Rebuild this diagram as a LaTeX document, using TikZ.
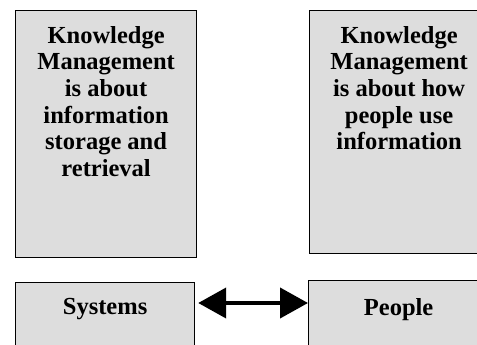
\documentclass[tikz,border=0pt]{standalone}
\usepackage{fontspec}
\setmainfont{Liberation Serif}
\usetikzlibrary{arrows.meta}
\definecolor{boxgray}{HTML}{DDDDDD}

\begin{document}
\begin{tikzpicture}[x=1pt,y=-1pt,
  box/.style={draw,line width=1.2pt,fill=boxgray,anchor=north west,inner sep=0pt},
  txt/.style={anchor=north,inner sep=0pt,align=center,font=\bfseries\fontsize{24.5}{26.7}\selectfont},
  both/.style={{Triangle[length=28pt,width=30pt]}-{Triangle[length=28pt,width=30pt]},line width=4pt}]
  \useasboundingbox (0,0) rectangle (477,345);
  \clip (0,0) rectangle (477,345);
  % top row
  \node [box,minimum width=181pt,minimum height=247pt] (storebox) at (15,10) {};
  \node [box,minimum width=179pt,minimum height=243pt] (usebox) at (309,10) {};
  \node [txt] (storetxt) at ([yshift=-16pt]storebox.north)
    {Knowledge\\Management\\is about\\information\\storage and\\retrieval};
  \node [txt] (usetxt) at ([yshift=-16pt]usebox.north)
    {Knowledge\\Management\\is about how\\people use\\information};
  % bottom row
  \node [box,minimum width=179pt,minimum height=90pt] (sys) at (15,282) {};
  \node [box,minimum width=180pt,minimum height=90pt] (ppl) at (308,280) {};
  \node [txt] (systxt) at ([yshift=-16pt]sys.north) {Systems};
  \node [txt] (ppltxt) at ([yshift=-18pt]ppl.north) {People};
  \draw [both,shorten <=3pt] ([yshift=-21pt]sys.north east) -- ([yshift=-23pt]ppl.north west);
\end{tikzpicture}
\end{document}
